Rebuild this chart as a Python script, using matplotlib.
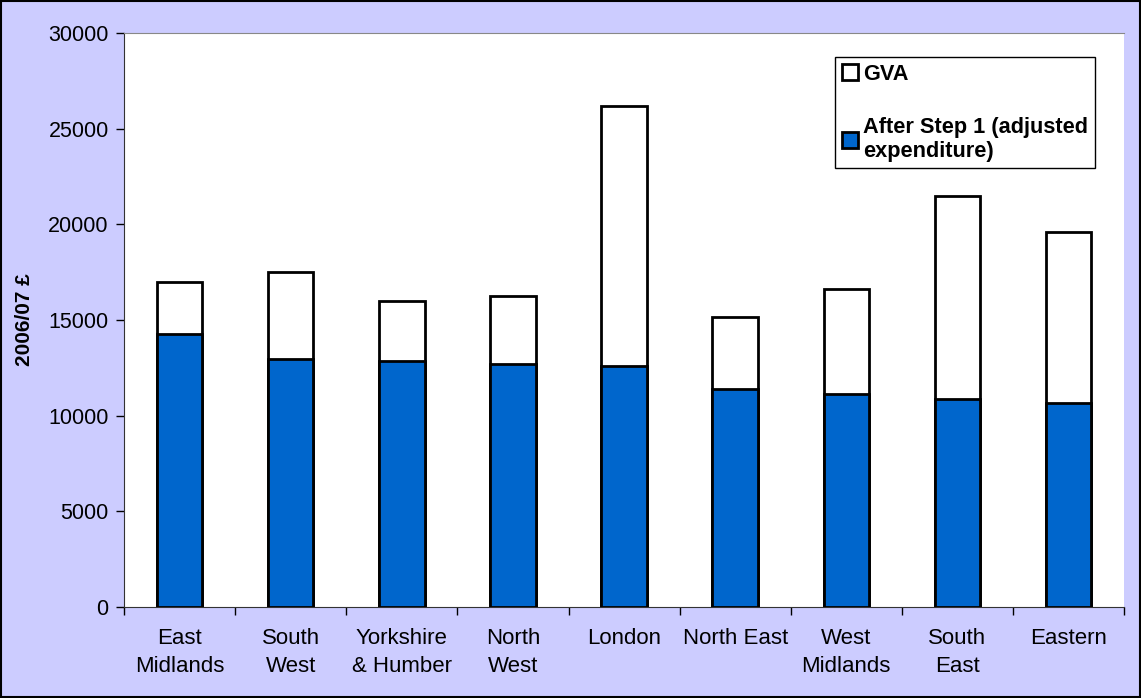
import matplotlib.pyplot as plt
from matplotlib.patches import Rectangle

regions = ["East\nMidlands", "South\nWest", "Yorkshire\n& Humber", "North\nWest",
           "London", "North East", "West\nMidlands", "South\nEast", "Eastern"]
gva = [17000, 17500, 16000, 16250, 26200, 15150, 16600, 21500, 19600]
step1 = [14250, 12950, 12850, 12700, 12600, 11400, 11150, 10850, 10650]

plt.rcParams["font.family"] = ["Liberation Sans", "DejaVu Sans"]

fig = plt.figure(figsize=(11.41, 6.98), dpi=100, facecolor="#CCCCFF")
ax = fig.add_axes([0.1087, 0.1304, 0.8765, 0.8223])
ax.set_facecolor("white")

x = list(range(len(regions)))
ax.bar(x, gva, width=0.41, color="white", edgecolor="black", linewidth=2,
       label="GVA", zorder=2)
ax.bar(x, step1, width=0.41, color="#0066CC", edgecolor="black", linewidth=2,
       label="After Step 1 (adjusted\nexpenditure)", zorder=3)

ax.set_xlim(-0.5, len(regions) - 0.5)
ax.set_ylim(0, 30000)
ax.set_yticks(range(0, 30001, 5000))
ax.tick_params(axis="y", labelsize=15.5, length=6, direction="out", width=1, pad=5)
ax.set_xticks(x)
ax.set_xticklabels(regions, fontsize=16, linespacing=1.45)
ax.tick_params(axis="x", length=0, pad=15)
ax.set_xticks([i - 0.5 for i in range(len(regions) + 1)], minor=True)
ax.tick_params(axis="x", which="minor", length=6, width=1)

ax.spines["right"].set_visible(False)
ax.spines["top"].set_color("#888888")
ax.spines["top"].set_linewidth(0.8)
for s in ("left", "bottom"):
    ax.spines[s].set_color("#333333")

ax.set_ylabel("2006/07 £", fontsize=15, fontweight="bold", labelpad=10)

leg = ax.legend(loc="upper left", bbox_to_anchor=(0.711, 0.958), borderaxespad=0,
                fancybox=False, edgecolor="black", framealpha=1,
                prop={"weight": "bold", "size": 15.7}, handlelength=0.75,
                handleheight=0.75, handletextpad=0.25, labelspacing=1.5,
                borderpad=0.3)
leg.get_frame().set_linewidth(1)
for t in leg.get_texts():
    t.set_linespacing(1.15)

fig.patches.append(Rectangle((0.001, 0.001), 0.998, 0.997, transform=fig.transFigure,
                             fill=False, edgecolor="black", linewidth=1.5))

fig.savefig("out.png", dpi=100, facecolor=fig.get_facecolor())
